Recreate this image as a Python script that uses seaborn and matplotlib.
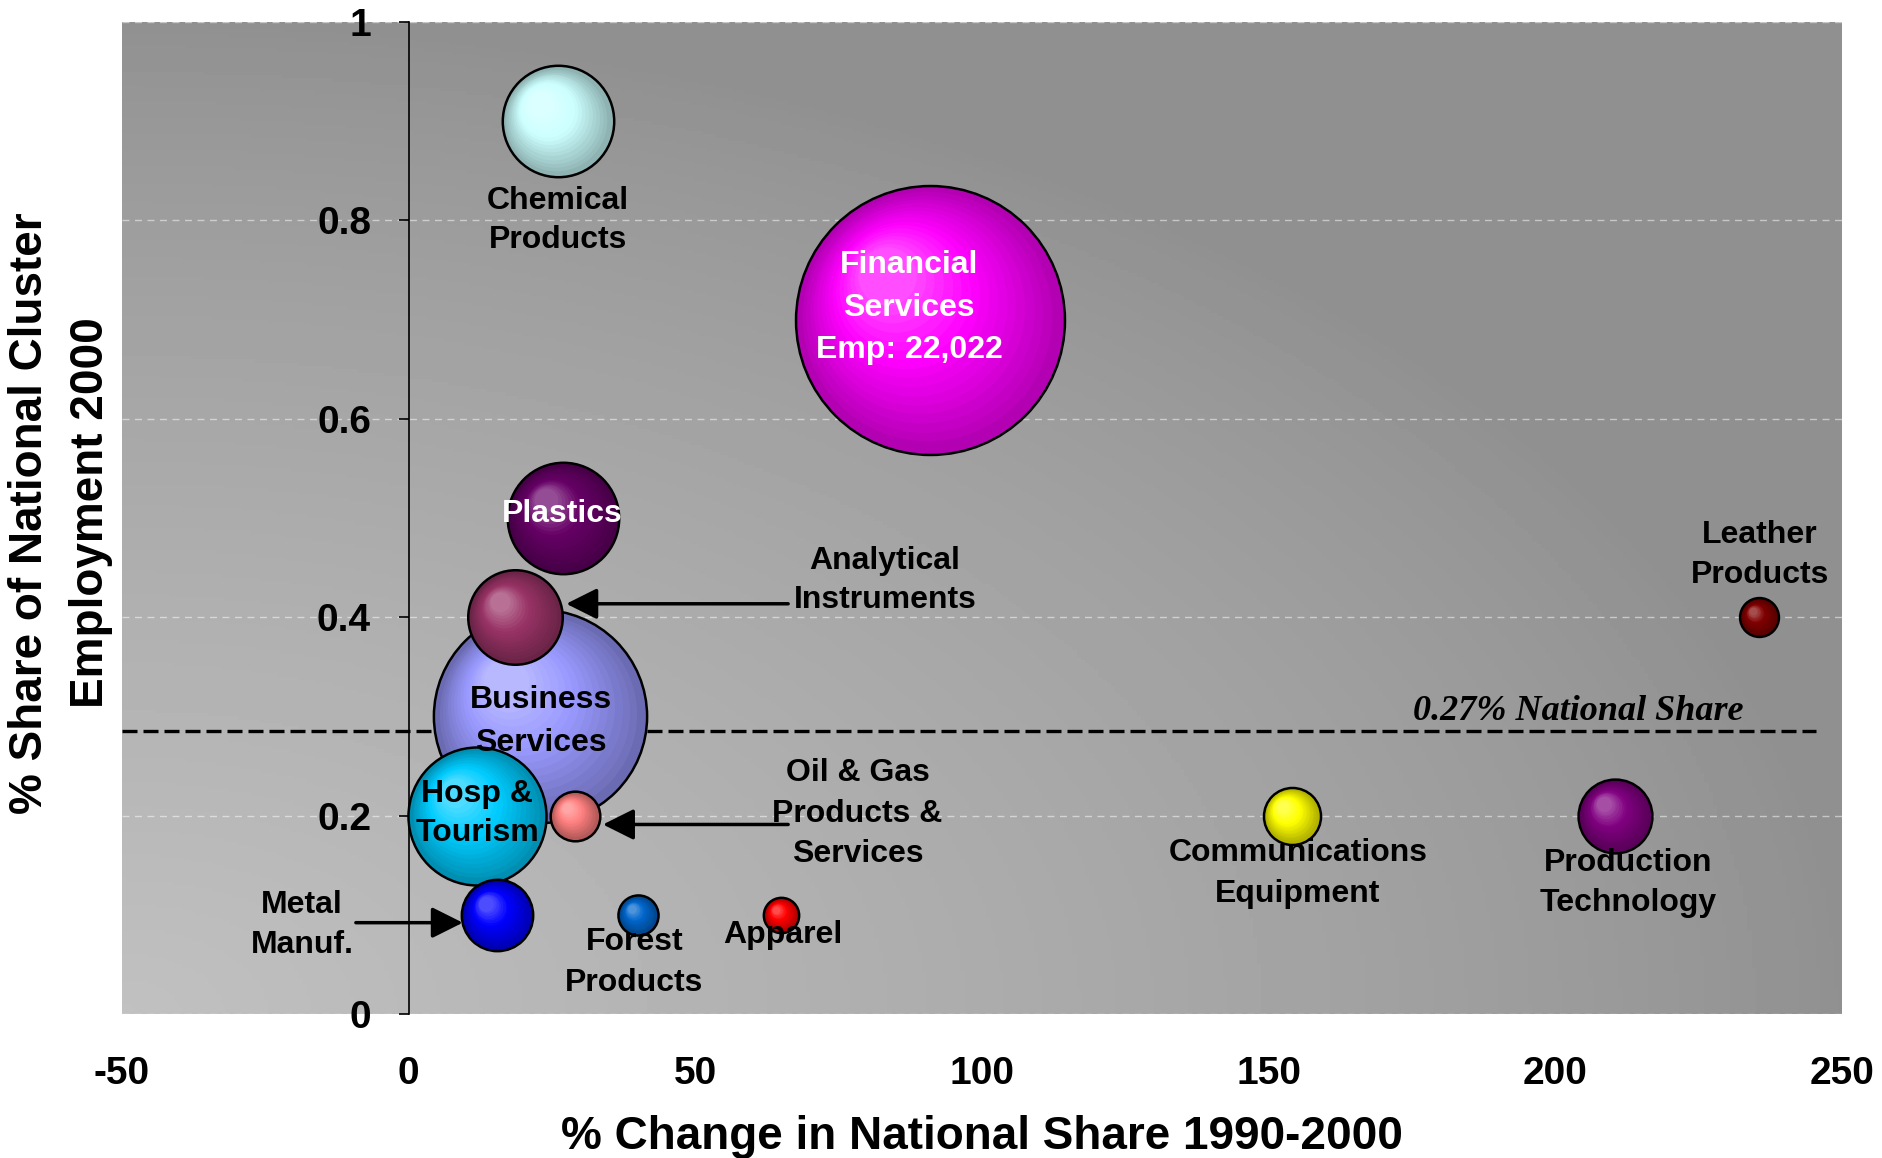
import numpy as np
import pandas as pd
import matplotlib
matplotlib.use("Agg")
import matplotlib.pyplot as plt
import matplotlib.transforms as mtransforms
from matplotlib.colors import to_rgb
import seaborn as sns

# ── Data ──────────────────────────────────────────────────
clusters = ["Business Services", "Chemical Products", "Financial Services", "Plastics",
            "Analytical Instruments", "Hosp & Tourism", "Oil & Gas Products & Services",
            "Metal Manuf.", "Forest Products", "Apparel", "Communications Equipment",
            "Production Technology", "Leather Products"]
pct_change = [23, 26, 91, 27, 18.5, 12, 29, 15.5, 40, 65, 154, 210.5, 235.5]
nat_share  = [0.30, 0.90, 0.70, 0.50, 0.40, 0.20, 0.20, 0.10, 0.10, 0.10, 0.20, 0.20, 0.40]
employment = [13840, 3780, 22022, 3780, 2720, 5800, 750, 1550, 490, 380, 990, 1660, 460]
bubble_colors = ["#9999ff", "#ccffff", "#ff00ff", "#660066", "#993366", "#00ccff", "#ff8080",
                 "#0000ff", "#0066cc", "#ff0000", "#ffff00", "#800080", "#800000"]

national_share = 0.285
x_ticks = [-50, 0, 50, 100, 150, 200, 250]
y_ticks = [0, 0.2, 0.4, 0.6, 0.8, 1]
y_ticklabels = ["0", "0.2", "0.4", "0.6", "0.8", "1"]

df = pd.DataFrame({"cluster": clusters, "change": pct_change,
                   "share": nat_share, "emp": employment})

# ── Styling ───────────────────────────────────────────────
sns.set_theme(style="white")
plt.rcParams.update({
    "font.family": ["Liberation Sans", "DejaVu Sans"],
    "font.weight": "bold",
    "text.color": "black",
    "axes.labelcolor": "black",
    "xtick.color": "black",
    "ytick.color": "black",
})

SMAX = 37500          # marker area (pt^2) for the largest bubble
EDGE = 1.8

fig = plt.figure(figsize=(18.82, 11.58), dpi=100)
ax = fig.add_axes([0.0648, 0.1244, 0.9139, 0.8566])

# gradient plot background (light bottom-left -> dark)
xx, yy = np.meshgrid(np.linspace(0, 1, 400), np.linspace(0, 1, 300))
d = np.sqrt(xx ** 2 + yy ** 2)
g = 0.565 + 0.19 * np.clip(1 - d, 0, 1) ** 0.8
ax.imshow(g, cmap="gray", vmin=0, vmax=1, origin="lower",
          extent=[-50, 250, 0, 1], aspect="auto", zorder=0)


def shade(x, y, s, base, z):
    """Excel-like radial shading: dark rim, lighter spot up-left."""
    rgb = np.array(to_rgb(base))
    dark = rgb * 0.70
    light = rgb + (1 - rgb) * 0.3
    r = np.sqrt(s) / 2 - EDGE / 2 - 0.3
    for k, f in enumerate(np.linspace(0.94, 0.22, 16)):
        t = (1 - f) / 0.78
        if t < 0.6:
            col = dark + (rgb - dark) * (t / 0.6)
        else:
            col = rgb + (light - rgb) * ((t - 0.6) / 0.4)
        off = mtransforms.offset_copy(ax.transData, fig=fig,
                                      x=-(1 - f) * r * 0.42, y=(1 - f) * r * 0.42,
                                      units="points")
        ax.scatter([x], [y], s=(2 * f * r) ** 2, color=np.clip(col, 0, 1),
                   linewidth=0, transform=off, zorder=z + 0.01 * (k + 1))


# bubbles, one by one so overlaps stack like the original
for i, row in df.iterrows():
    base = bubble_colors[i]
    z = 3 + i
    sns.scatterplot(data=df.iloc[[i]], x="change", y="share", size="emp",
                    sizes=(0, SMAX), size_norm=(0, max(employment)),
                    color=tuple(np.array(to_rgb(base)) * 0.70),
                    edgecolor="black", linewidth=EDGE, legend=False, ax=ax, zorder=z)
    s = SMAX * row["emp"] / max(employment)
    shade(row["change"], row["share"], s, base, z)

# national share reference line
ax.hlines(national_share, -50, 245.5, color="black", lw=2.4,
          linestyles=[(0, (4.5, 1.8))], zorder=2)
ax.text(204, 0.305, "0.27% National Share", family=["Liberation Serif", "DejaVu Serif"],
        style="italic", fontweight="bold", fontsize=26, color="black",
        ha="center", va="center", zorder=20)

# labels
LBL = dict(fontsize=23, fontweight="bold", ha="center", va="center", zorder=30)
labels = [
    ("Chemical\nProducts", 26, 0.80, "black", 1.4),
    ("Financial\nServices\nEmp: 22,022", 87.3, 0.712, "white", 1.55),
    ("Plastics", 26.8, 0.504, "white", 1.4),
    ("Business\nServices", 23.1, 0.295, "black", 1.55),
    ("Hosp &\nTourism", 12.0, 0.202, "black", 1.4),
    ("Analytical\nInstruments", 83.1, 0.437, "black", 1.4),
    ("Oil & Gas\nProducts &\nServices", 78.3, 0.202, "black", 1.45),
    ("Metal\nManuf.", -18.6, 0.0895, "black", 1.45),
    ("Forest\nProducts", 39.4, 0.052, "black", 1.45),
    ("Apparel", 65.3, 0.08, "black", 1.4),
    ("Communications\nEquipment", 155.1, 0.1415, "black", 1.45),
    ("Production\nTechnology", 212.7, 0.132, "black", 1.45),
    ("Leather\nProducts", 235.7, 0.463, "black", 1.45),
]
for txt, lx, ly, c, ls in labels:
    ax.text(lx, ly, txt, color=c, linespacing=ls, **LBL)

# arrows
ARW = dict(arrowstyle="-|>,head_length=0.5,head_width=0.25", color="black",
           lw=2.5, mutation_scale=38, shrinkA=0, shrinkB=0)
ax.annotate("", xy=(27.5, 0.4135), xytext=(66.2, 0.4135), arrowprops=ARW, zorder=25)
ax.annotate("", xy=(33.9, 0.191), xytext=(66.2, 0.191), arrowprops=ARW, zorder=25)
ax.annotate("", xy=(9.45, 0.092), xytext=(-9.2, 0.092), arrowprops=ARW, zorder=25)

# axes
ax.set_xlim(-50, 250)
ax.set_ylim(0, 1)
ax.set_xticks(x_ticks)
ax.set_xticklabels([str(v) for v in x_ticks])
ax.set_yticks(y_ticks)
ax.set_yticklabels(y_ticklabels)
ax.yaxis.grid(True, color="white", alpha=0.5, linestyle=(0, (5, 4)), lw=1)
ax.xaxis.grid(False)
ax.set_axisbelow(True)

for side in ["top", "right", "bottom"]:
    ax.spines[side].set_visible(False)
ax.spines["left"].set_position(("data", 0))
ax.spines["left"].set_color("black")
ax.spines["left"].set_linewidth(1.2)
ax.spines["left"].set_zorder(2.5)

ax.tick_params(axis="y", direction="out", length=7, width=1.2, color="black",
               labelcolor="black", pad=20, labelsize=28, left=True)
ax.tick_params(axis="x", length=0, pad=30, labelsize=28, labelcolor="black")
for t in ax.get_xticklabels() + ax.get_yticklabels():
    t.set_fontweight("bold")

ax.set_xlabel("% Change in National Share 1990-2000", fontsize=33,
              fontweight="bold", labelpad=17, color="black")
ax.set_ylabel("% Share of National Cluster\nEmployment 2000", fontsize=33,
              fontweight="bold", linespacing=1.5, va="center", color="black")
ax.yaxis.set_label_coords(-0.0355, 0.505)

fig.savefig("out.png", dpi=100, facecolor="white")
